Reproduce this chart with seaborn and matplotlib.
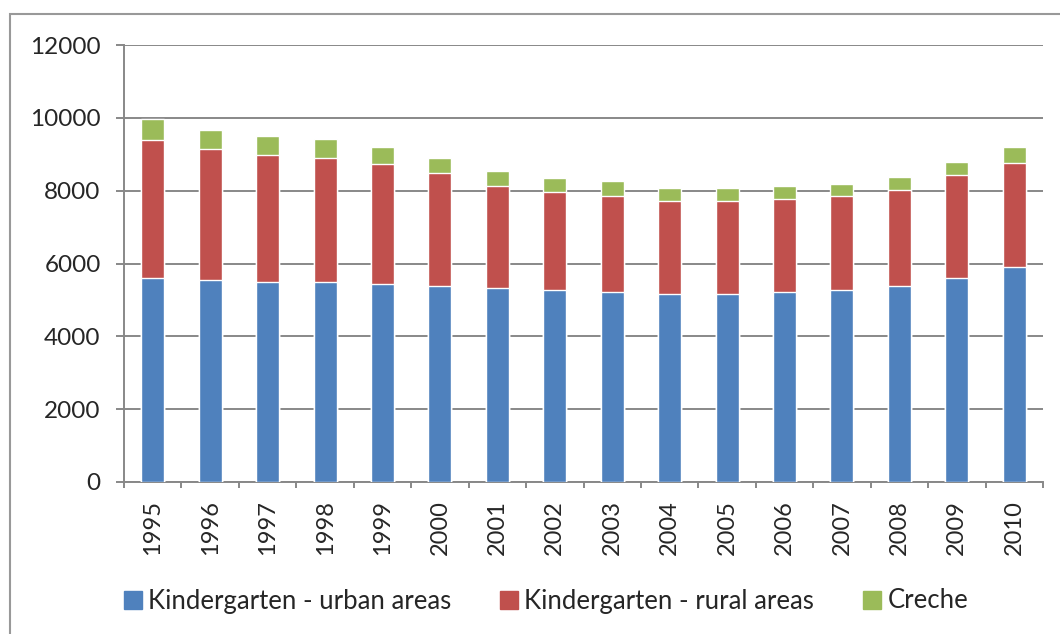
import matplotlib.pyplot as plt
import matplotlib.patches as mpatches
import seaborn as sns
import pandas as pd
import numpy as np

years = ['1995', '1996', '1997', '1998', '1999', '2000', '2001', '2002',
         '2003', '2004', '2005', '2006', '2007', '2008', '2009', '2010']
urban = [5610, 5550, 5500, 5500, 5440, 5390, 5330, 5270,
         5210, 5150, 5150, 5210, 5270, 5390, 5615, 5905]
rural = [3770, 3590, 3470, 3410, 3280, 3090, 2790, 2690,
         2640, 2570, 2570, 2570, 2575, 2620, 2810, 2860]
creche = [580, 530, 520, 520, 470, 420, 410, 400,
          410, 350, 350, 360, 350, 360, 350, 430]

series_names = ['Kindergarten - urban areas', 'Kindergarten - rural areas', 'Creche']
colors = ['#4F81BD', '#C0504D', '#9BBB59']

df = pd.DataFrame({'year': years, 'urban': urban, 'rural': rural, 'creche': creche})
df['lvl1'] = df['urban']
df['lvl2'] = df['urban'] + df['rural']
df['lvl3'] = df['lvl2'] + df['creche']

sns.set_style('white')
plt.rcParams['font.family'] = ['Lato', 'DejaVu Sans']

fig = plt.figure(figsize=(10.6, 6.34), dpi=100)
ax = fig.add_axes([124 / 1060, 1 - 482 / 634, (1043 - 124) / 1060, (482 - 45) / 634])

# stacked: draw the tallest first, then overlay
for col, c in zip(['lvl3', 'lvl2', 'lvl1'], colors[::-1]):
    sns.barplot(data=df, x='year', y=col, color=c, width=0.4, ax=ax,
                saturation=1, errorbar=None, zorder=3)

ax.set_ylim(0, 12000)
ax.set_yticks(np.arange(0, 12001, 2000))
ax.set_xlim(-0.5, len(years) - 0.5)
ax.set_xlabel('')
ax.set_ylabel('')

grid_c = '#888888'
ax.yaxis.grid(True, color=grid_c, linewidth=1.4, zorder=0)
ax.set_axisbelow(True)
for s in ['top', 'right']:
    ax.spines[s].set_visible(False)
for s in ['left', 'bottom']:
    ax.spines[s].set_color(grid_c)
    ax.spines[s].set_linewidth(1.4)

ax.tick_params(axis='y', which='major', direction='out', length=5.8, width=1.4,
               color=grid_c, labelsize=17.5, pad=11, left=True)
ax.set_xticks(np.arange(len(years) + 1) - 0.5, minor=True)
ax.set_xticks(np.arange(len(years)))
ax.set_xticklabels(years, rotation=90, fontsize=17)
ax.tick_params(axis='x', which='major', length=0, pad=13)
ax.tick_params(axis='x', which='minor', direction='out', length=4.5, width=1.4,
               color=grid_c, bottom=True)

handles = [mpatches.Patch(color=c, label=n) for c, n in zip(colors, series_names)]
fig.legend(handles=handles, loc='center', bbox_to_anchor=(0.515, 1 - 601 / 634),
           ncol=3, frameon=False, fontsize=18.5, handlelength=0.7, handleheight=0.7,
           handletextpad=0.25, columnspacing=1.9)

# outer chart border
fig.patches.append(mpatches.Rectangle((10 / 1060, -0.05), 1.2, 1 - 14 / 634 + 0.05,
                                      transform=fig.transFigure, fill=False,
                                      edgecolor='#999999', linewidth=1.5))

fig.savefig('out.png', dpi=100)
